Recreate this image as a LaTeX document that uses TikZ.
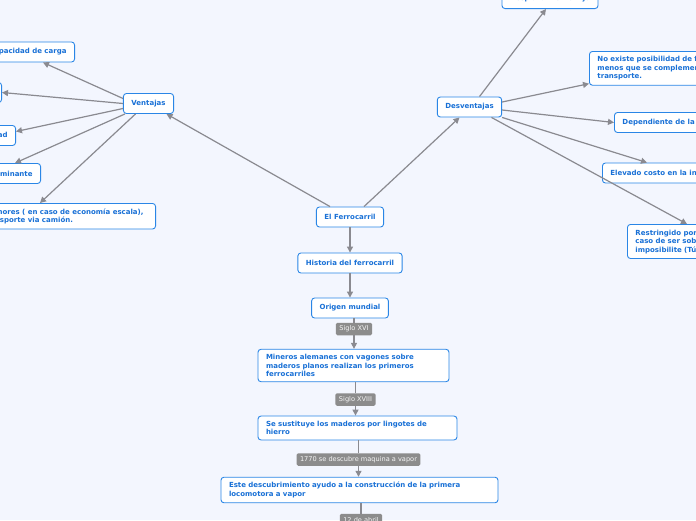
\documentclass[tikz,border=0pt]{standalone}
\usepackage{fontspec}
\usepackage{tikz}
\usetikzlibrary{
  arrows.meta,
  positioning,
}
\newfontfamily\mapfont{DejaVu Sans}
\definecolor{mapbg}{RGB}{243,246,254}
\definecolor{mapblue}{RGB}{42,134,230}
\definecolor{maptext}{RGB}{24,112,214}
\definecolor{mapgray}{RGB}{138,138,144}
\definecolor{maplabel}{RGB}{140,140,140}
\tikzset{
  my topic/.style={
    draw=mapblue,
    fill=white,
    line width=0.9pt,
    rounded corners=3pt,
    text=maptext,
    font=\mapfont\bfseries\fontsize{7}{8.5}\selectfont,
    minimum height=20pt,
    inner xsep=8pt,
    inner ysep=5pt,
    align=left
  },
  my label/.style={
    fill=maplabel,
    rounded corners=1.5pt,
    text=white!92!maplabel,
    font=\mapfont\fontsize{6.6}{7.5}\selectfont,
    minimum height=12.5pt,
    inner xsep=3.5pt,
    inner ysep=1pt
  },
  my link/.style={
    draw=mapgray,
    line width=1.2pt,
    -{Triangle[length=6pt,width=6pt]}
  },
  my plain link/.style={
    draw=mapgray,
    line width=1.2pt
  }
}

\begin{document}
\begin{tikzpicture}[x=1pt,y=-1pt]
\useasboundingbox (0,0) rectangle (696,520);
\clip (0,0) rectangle (696,520);
\fill[mapbg] (0,0) rectangle (696,520);

% centre and history chain
\node[my topic] (ferro)    at (350,217) {El Ferrocarril};
\node[my topic] (historia) at (350,263) {Historia del ferrocarril};
\node[my topic] (origen)   at (350,308) {Origen mundial};
\node[my label] (s16)      at (354,329) {Siglo XVI};
\node[my topic,text width=175pt] (mineros) at (353.5,365.5)
  {Mineros alemanes con vagones sobre\\maderos planos realizan los primeros\\ferrocarriles};
\node[my label] (s18)      at (355.5,399.5) {Siglo XVIII};
\node[my topic,text width=183pt] (sustituye) at (357.5,428)
  {Se sustituye los maderos por lingotes de\\hierro};
\node[my label] (vapor)    at (358.5,459.5) {1770 se descubre maquina a vapor};
\node[my topic,text width=261pt] (este) at (359.5,490)
  {Este descubrimiento ayudo a la construcción de la primera\\locomotora a vapor};
\node[my label] (abril)    at (361,520) {12 de abril};

% ventajas
\node[my topic] (ventajas) at (148.5,103.5) {Ventajas};
\node[my topic,anchor=east] (capacidad)    at (75,52)     {Mayor capacidad de carga};
\node[my topic,anchor=east] (bajo)         at (2,92.5)    {Bajo costo de operación};
\node[my topic,anchor=east] (seguridad)    at (16,135.5)  {Seguridad};
\node[my topic,anchor=east] (contaminante) at (41,173.5)  {Poco contaminante};
\node[my topic,anchor=north east,inner xsep=12pt] (costos) at (156,203)
  {Costos menores ( en caso de economía escala),\\que el transporte via camión.};

% desventajas
\node[my topic] (desv) at (469.5,107) {Desventajas};
\node[my topic,anchor=south] (desplaz) at (550,9) {Desplazamiento Fijo};
\node[my topic,anchor=north west,text width=250pt] (noexiste) at (589,51)
  {No existe posibilidad de flexibilidad a\\menos que se complemente con otro medio de\\transporte.};
\node[my topic,anchor=west] (dependiente) at (614,122.5) {Dependiente de la infraestructura};
\node[my topic,anchor=west] (elevado)     at (602,173)   {Elevado costo en la infraestructura};
\node[my topic,anchor=north west,text width=150pt] (restringido) at (627,224)
  {Restringido por la geografía, en\\caso de ser sobre montañas se\\imposibilite (Túneles)};

\draw[my link] ([xshift=-20pt]ferro.north) -- ([xshift=18pt]ventajas.south);
\draw[my link] ([xshift=14pt]ferro.north) -- ([xshift=-10pt]desv.south);

\draw[my link] ([yshift=5pt]ventajas.west) -- ([xshift=-32pt]capacidad.south east);
\draw[my link] (ventajas.west) -- (bajo.east);
\draw[my link] ([yshift=-5pt]ventajas.west) -- ([yshift=4pt]seguridad.east);
\draw[my link] ([xshift=2pt]ventajas.south west) -- ([xshift=-26pt]contaminante.north east);
\draw[my link] ([xshift=-13pt]ventajas.south) -- ([xshift=-116pt]costos.north east);

\draw[my link] ([xshift=10pt]desv.north) -- ([xshift=-4pt]desplaz.south);
\draw[my link] ([yshift=5pt]desv.east) -- ([yshift=2pt]noexiste.south west);
\draw[my link] ([yshift=-3pt]desv.east) -- (dependiente.west);
\draw[my link] (desv.south east) -- ([xshift=45pt]elevado.north west);
\draw[my link] ([xshift=22pt]desv.south) -- ([xshift=60pt]restringido.north west);

\draw[my link] (ferro) -- (historia);
\draw[my link] (historia) -- (origen);
\draw[my plain link] (s16 |- origen.south) -- (s16);
\draw[my link] (s16) -- (s16 |- mineros.north);
\draw[my plain link] (s18 |- mineros.south) -- (s18);
\draw[my link] (s18) -- (s18 |- sustituye.north);
\draw[my plain link] (vapor |- sustituye.south) -- (vapor);
\draw[my link] (vapor) -- (vapor |- este.north);
\draw[my plain link] (abril |- este.south) -- (abril);
\end{tikzpicture}
\end{document}
